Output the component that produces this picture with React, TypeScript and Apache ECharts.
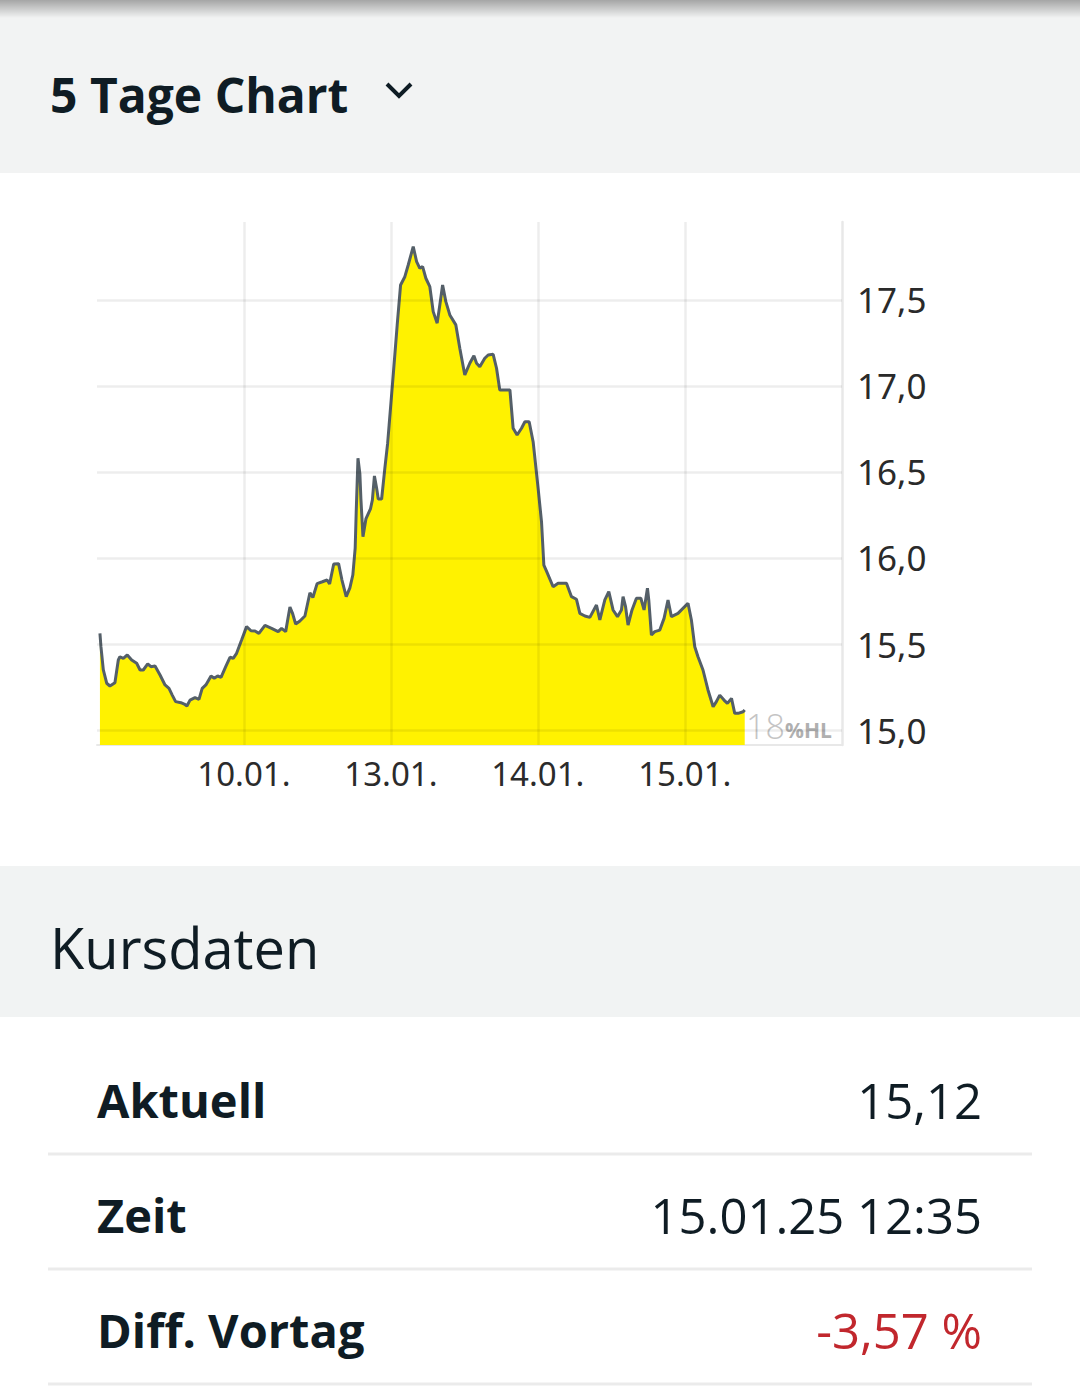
import React, { useEffect, useRef } from "react";
import * as echarts from "echarts";

// time in trading-day units (0 = start of 09.01.), price in EUR
const times = [
  0.02, 0.027, 0.043, 0.066, 0.088, 0.122, 0.145, 0.156, 0.179, 0.206, 0.236, 0.27, 0.293, 0.315, 0.345, 0.367, 0.395,
  0.429, 0.463, 0.49, 0.512, 0.535, 0.571, 0.594, 0.612, 0.633, 0.667, 0.694, 0.716, 0.741, 0.776, 0.798, 0.821, 0.844,
  0.876, 0.905, 0.927, 0.95, 0.984, 1.018, 1.048, 1.075, 1.102, 1.143, 1.188, 1.233, 1.256, 1.284, 1.313, 1.33, 1.352,
  1.381, 1.415, 1.449, 1.469, 1.498, 1.534, 1.566, 1.583, 1.611, 1.644, 1.667, 1.696, 1.721, 1.741, 1.757, 1.764, 1.776,
  1.789, 1.796, 1.81, 1.83, 1.861, 1.874, 1.888, 1.903, 1.914, 1.937, 1.959, 1.978, 1.988, 2.016, 2.043, 2.066, 2.095,
  2.118, 2.152, 2.175, 2.197, 2.216, 2.238, 2.265, 2.288, 2.315, 2.333, 2.352, 2.374, 2.401, 2.442, 2.469, 2.503, 2.537,
  2.565, 2.583, 2.605, 2.639, 2.662, 2.696, 2.719, 2.741, 2.769, 2.81, 2.832, 2.859, 2.889, 2.912, 2.941, 2.968, 3.002,
  3.025, 3.041, 3.059, 3.104, 3.138, 3.195, 3.229, 3.263, 3.286, 3.32, 3.354, 3.399, 3.422, 3.456, 3.483, 3.512, 3.542,
  3.569, 3.58, 3.597, 3.614, 3.641, 3.671, 3.701, 3.723, 3.746, 3.755, 3.773, 3.796, 3.83, 3.859, 3.886, 3.909, 3.954,
  4.022, 4.045, 4.068, 4.09, 4.124, 4.158, 4.193, 4.215, 4.238, 4.267, 4.29, 4.318, 4.34, 4.363, 4.397, 4.408,
];
const prices = [
  15.562, 15.483, 15.349, 15.272, 15.256, 15.275, 15.407, 15.426, 15.417, 15.436, 15.407, 15.388, 15.349, 15.349, 15.384,
  15.368, 15.372, 15.32, 15.262, 15.242, 15.203, 15.165, 15.159, 15.151, 15.14, 15.174, 15.188, 15.178, 15.242, 15.262,
  15.314, 15.301, 15.314, 15.306, 15.368, 15.423, 15.417, 15.446, 15.523, 15.601, 15.577, 15.576, 15.562, 15.608, 15.591,
  15.572, 15.591, 15.572, 15.715, 15.68, 15.616, 15.634, 15.663, 15.798, 15.77, 15.851, 15.862, 15.872, 15.849, 15.965,
  15.967, 15.872, 15.775, 15.826, 15.901, 16.058, 16.267, 16.58, 16.488, 16.343, 16.124, 16.227, 16.285, 16.337, 16.477,
  16.405, 16.343, 16.343, 16.522, 16.667, 16.773, 17.064, 17.355, 17.587, 17.635, 17.703, 17.81, 17.723, 17.684, 17.694,
  17.626, 17.577, 17.432, 17.365, 17.471, 17.587, 17.49, 17.413, 17.355, 17.219, 17.064, 17.132, 17.176, 17.132, 17.112,
  17.161, 17.18, 17.184, 17.103, 16.977, 16.977, 16.977, 16.754, 16.715, 16.754, 16.792, 16.792, 16.676, 16.405, 16.211,
  15.959, 15.924, 15.833, 15.853, 15.853, 15.775, 15.76, 15.678, 15.663, 15.655, 15.727, 15.64, 15.756, 15.804, 15.698,
  15.659, 15.698, 15.775, 15.717, 15.61, 15.698, 15.766, 15.766, 15.698, 15.824, 15.756, 15.552, 15.572, 15.581, 15.649,
  15.756, 15.659, 15.678, 15.737, 15.64, 15.484, 15.426, 15.349, 15.233, 15.135, 15.165, 15.203, 15.174, 15.155, 15.184,
  15.097, 15.097, 15.106, 15.116,
];

const dayLabels = ["", "10.01.", "13.01.", "14.01.", "15.01.", ""];
const dayBoundaries = [1, 2, 3, 4];
const yTicks = [15.0, 15.5, 16.0, 16.5, 17.0, 17.5];
const yTickLabels = ["15,0", "15,5", "16,0", "16,5", "17,0", "17,5"];

const rowLabels = ["Aktuell", "Zeit", "Diff. Vortag"];
const rowValues = ["15,12", "15.01.25 12:35", "-3,57 %"];

const DARK = "#0f1c24";
const FONT = "'Open Sans', 'Noto Sans', sans-serif";

export default function App() {
  const ref = useRef<HTMLDivElement>(null);

  useEffect(() => {
    document.body.style.margin = "0";
    if (!ref.current) return;
    const chart = echarts.init(ref.current, null, { renderer: "svg" });

    const data = times.map((t, i) => [t, prices[i]]);

    const markData: any[] = [];
    yTicks.forEach((v, i) => {
      markData.push({ yAxis: v, label: { show: true, formatter: yTickLabels[i] } });
    });
    dayBoundaries.forEach((d) => {
      markData.push({ xAxis: d, label: { show: false } });
    });

    const rowCenters = [1100, 1215, 1330];
    const sepYs = [1154, 1269, 1384];

    const graphics: any[] = [
      { type: "rect", z: -10, shape: { x: 0, y: 0, width: 1080, height: 173 }, style: { fill: "#f2f3f3" } },
      {
        type: "rect",
        z: -9,
        shape: { x: 0, y: 0, width: 1080, height: 18 },
        style: {
          fill: new echarts.graphic.LinearGradient(0, 0, 0, 1, [
            { offset: 0, color: "rgba(0,0,0,0.32)" },
            { offset: 1, color: "rgba(0,0,0,0)" },
          ]),
        },
      },
      {
        type: "text",
        x: 50,
        y: 94,
        style: { text: "5 Tage Chart", font: `bold 48px ${FONT}`, fill: DARK, textVerticalAlign: "middle" },
      },
      {
        type: "polyline",
        shape: { points: [[387, 84], [399, 96], [411, 84]] },
        style: { stroke: DARK, lineWidth: 4, fill: "none" },
      },
      { type: "rect", z: -10, shape: { x: 0, y: 866, width: 1080, height: 151 }, style: { fill: "#f1f3f3" } },
      {
        type: "text",
        x: 50,
        y: 947,
        style: { text: "Kursdaten", font: `56px ${FONT}`, fill: DARK, textVerticalAlign: "middle" },
      },
      {
        type: "text",
        x: 746,
        y: 726,
        style: { text: "18", font: `300 34px ${FONT}`, fill: "#c4c4c4", textVerticalAlign: "middle" },
      },
      {
        type: "text",
        x: 785,
        y: 730,
        style: { text: "%HL", font: `bold 21px ${FONT}`, fill: "#b0b0b0", textVerticalAlign: "middle" },
      },
    ];

    rowLabels.forEach((lab, i) => {
      graphics.push({
        type: "text",
        x: 97,
        y: rowCenters[i],
        style: { text: lab, font: `bold 47px ${FONT}`, fill: DARK, textVerticalAlign: "middle" },
      });
      graphics.push({
        type: "text",
        x: 982,
        y: rowCenters[i],
        style: {
          text: rowValues[i],
          font: `49px ${FONT}`,
          fill: i === 2 ? "#c1272d" : DARK,
          textAlign: "right",
          textVerticalAlign: "middle",
        },
      });
      graphics.push({
        type: "rect",
        shape: { x: 48, y: sepYs[i] - 1.5, width: 984, height: 3 },
        style: { fill: "#ebebeb" },
      });
    });

    chart.setOption({
      animation: false,
      backgroundColor: "#ffffff",
      grid: { left: 97, top: 222, width: 745, height: 523, containLabel: false },
      xAxis: {
        type: "value",
        min: 0,
        max: 5.07,
        interval: 1,
        axisLine: { show: true, onZero: false, lineStyle: { color: "#e8e8e8", width: 2 } },
        axisTick: { show: false },
        splitLine: { show: false },
        axisLabel: {
          show: true,
          margin: 12,
          fontSize: 33,
          fontFamily: "'Noto Sans', sans-serif",
          color: "#2b2b2b",
          formatter: (v: number) => dayLabels[Math.round(v)] ?? "",
        },
      },
      yAxis: {
        type: "value",
        position: "right",
        min: 14.913,
        max: 17.953,
        axisLine: { show: true, onZero: false, lineStyle: { color: "#e8e8e8", width: 2.5 } },
        axisTick: { show: false },
        splitLine: { show: false },
        axisLabel: { show: false },
      },
      series: [
        {
          type: "line",
          data,
          showSymbol: false,
          symbol: "none",
          lineStyle: { color: "#545f68", width: 3 },
          areaStyle: { color: "#fff200", opacity: 1, origin: "start" },
          silent: true,
          markLine: {
            silent: true,
            symbol: ["none", "none"],
            precision: 3,
            lineStyle: { type: "solid", color: "rgba(0,0,0,0.07)", width: 2.5 },
            label: {
              position: "end",
              distance: 15,
              fontSize: 35,
              fontFamily: "'Noto Sans', sans-serif",
              color: "#2a2a2a",
            },
            emphasis: { disabled: true },
            data: markData,
          },
        },
      ],
      graphic: graphics,
    });

    return () => chart.dispose();
  }, []);

  return <div ref={ref} style={{ width: 1080, height: 1388 }} />;
}
